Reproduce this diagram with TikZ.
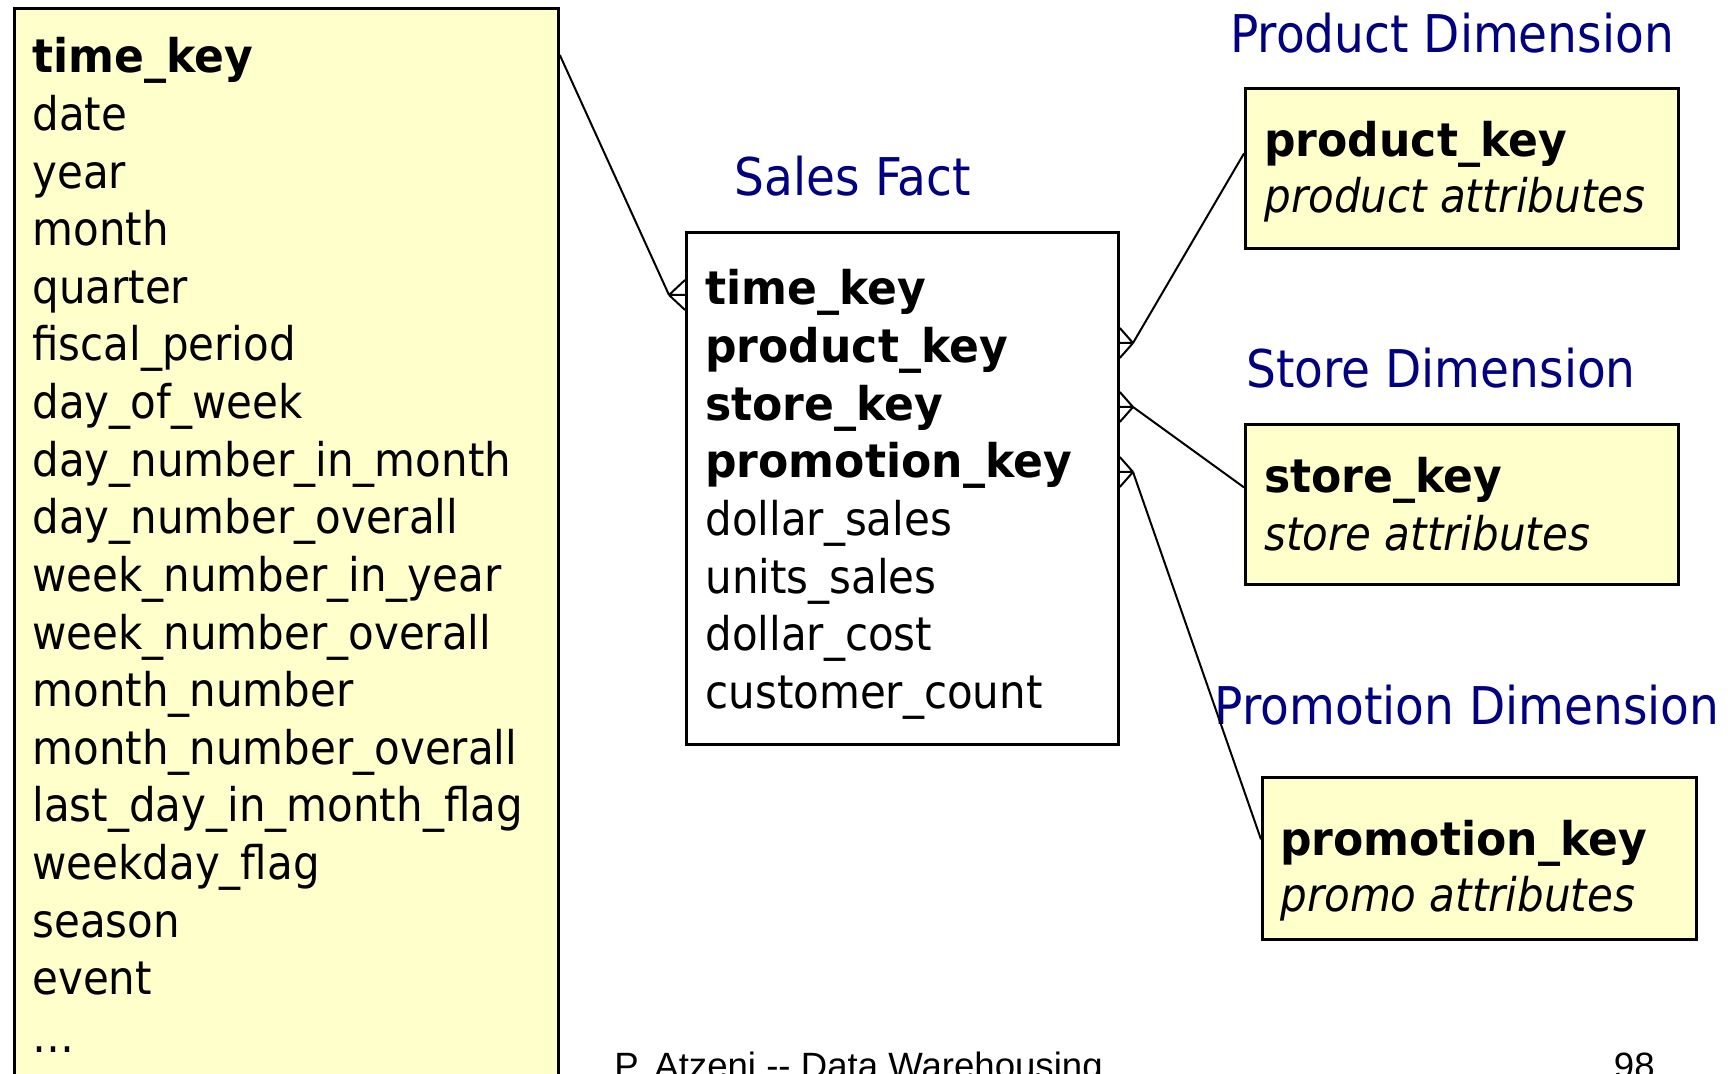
\documentclass[tikz,border=0pt]{standalone}
\usepackage{fontspec}
\setmainfont{DejaVu Sans}[FakeStretch=0.905, BoldFeatures={FakeStretch=0.95}]
\newfontfamily\footfont{Liberation Sans}
\usetikzlibrary{calc}
\definecolor{dimfill}{RGB}{255,255,204}
\definecolor{titleblue}{RGB}{0,0,128}
\tikzset{
  tablebox/.style={draw=black, line width=1.4pt, inner sep=0pt, anchor=north west},
  dimbox/.style={tablebox, fill=dimfill},
  factbox/.style={tablebox, fill=white},
  attr/.style={anchor=base west, inner sep=0pt, font=\fontsize{23.2}{28.8}\selectfont},
  keyattr/.style={attr, font=\fontsize{23.2}{28.8}\selectfont\bfseries},
  descattr/.style={attr, font=\fontsize{23.2}{28.8}\selectfont\itshape},
  tabletitle/.style={anchor=base, inner sep=0pt, text=titleblue, font=\fontsize{26}{31}\selectfont},
  link/.style={line width=1pt},
}

\begin{document}
\begin{tikzpicture}[x=0.5pt, y=-0.5pt]
\useasboundingbox (0,0) rectangle (1728,1074);
\clip (0,0) rectangle (1728,1074);

% Time dimension
\node[dimbox, minimum width=272pt, minimum height=550pt] (timebox) at (13,7) {};
\node[keyattr] (tkey) at (32,73) {time\_key};
\foreach \txt [count=\i from 1] in {date, year, month, quarter, fiscal\_period,
    day\_of\_week, day\_number\_in\_month, day\_number\_overall,
    week\_number\_in\_year, week\_number\_overall, month\_number,
    month\_number\_overall, last\_day\_in\_month\_flag, weekday\_flag,
    season, event, \ldots}
  \node[attr] (tattr\i) at (32, 73+57.6*\i) {\txt};

% Sales fact
\node[tabletitle] (facttitle) at (853,196) {Sales Fact};
\node[factbox, minimum width=216pt, minimum height=256pt] (fact) at (685,231) {};
\foreach \txt [count=\i from 0] in {time\_key, product\_key, store\_key, promotion\_key}
  \node[keyattr] (fkey\i) at (705, 305+57.6*\i) {\txt};
\foreach \txt [count=\i from 4] in {dollar\_sales, units\_sales, dollar\_cost, customer\_count}
  \node[attr] (fattr\i) at (705, 305+57.6*\i) {\txt};

% Product dimension
\node[tabletitle] (prodtitle) at (1452,53) {Product Dimension};
\node[dimbox, minimum width=216.5pt, minimum height=80pt] (prod) at (1244,87) {};
\node[keyattr] (prodkey) at (1264,157) {product\_key};
\node[descattr] (prodattr) at (1264,213) {product attributes};

% Store dimension
\node[tabletitle] (storetitle) at (1441,388) {Store Dimension};
\node[dimbox, minimum width=216.5pt, minimum height=80pt] (store) at (1244,423) {};
\node[keyattr] (storekey) at (1264,493) {store\_key};
\node[descattr] (storeattr) at (1264,550) {store attributes};

% Promotion dimension
\node[tabletitle] (promotitle) at (1467,724) {Promotion Dimension};
\node[dimbox, minimum width=217pt, minimum height=81pt] (promo) at (1261,776) {};
\node[keyattr] (promokey) at (1280,855) {promotion\_key};
\node[descattr] (promoattr) at (1280,911) {promo attributes};

% Crow's feet on the fact table
\coordinate (ftime) at (669,295);
\coordinate (fprod) at (1133,343);
\coordinate (fstore) at (1133,407);
\coordinate (fpromo) at (1133,472);
\foreach \f/\e in {ftime/fact.west, fprod/fact.east, fstore/fact.east, fpromo/fact.east}
  \draw[link] (\f) -- (\e |- \f)
    (\f) -- ($(\e |- \f)+(0,15)$)
    (\f) -- ($(\e |- \f)+(0,-15)$);

% Links to the dimensions
\draw[link] ([yshift=-24pt]timebox.north east) -- (ftime);
\draw[link] (fprod) -- ([yshift=7.5pt]prod.west);
\draw[link] (fstore) -- ([yshift=8.5pt]store.west);
\draw[link] (fpromo) -- ([yshift=9.5pt]promo.west);

% Footer
\node[anchor=base west, inner sep=0pt, font=\footfont\fontsize{18.3}{22}\selectfont] (footer) at (614,1078) {P. Atzeni -{}- Data Warehousing};
\node[anchor=base east, inner sep=0pt, font=\footfont\fontsize{18.3}{22}\selectfont] (pagenum) at (1655,1078) {98};
\end{tikzpicture}
\end{document}
